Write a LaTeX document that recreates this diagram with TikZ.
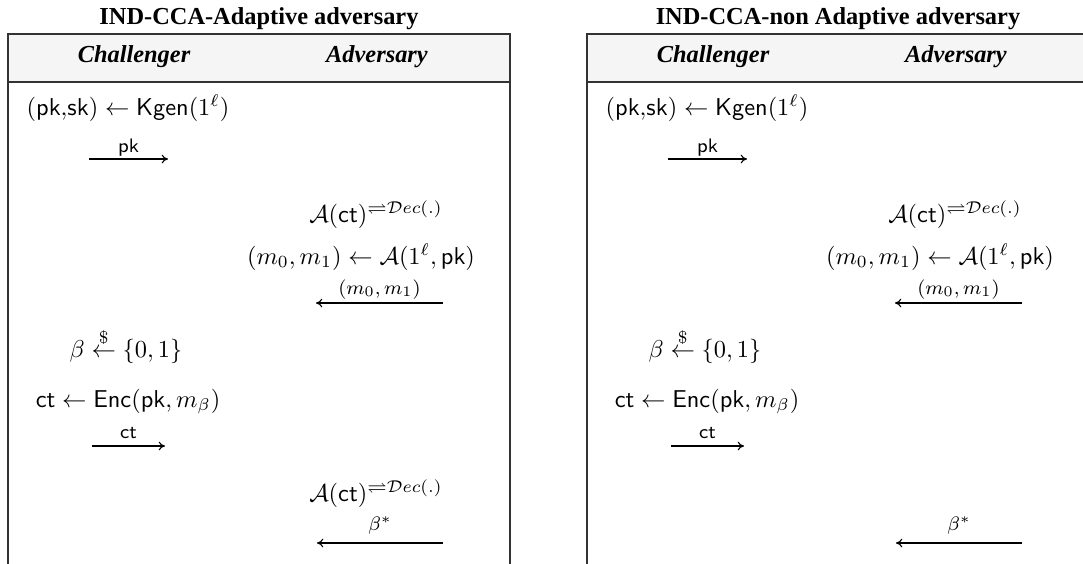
\documentclass[tikz,border=0pt]{standalone}
\usepackage{amsmath,amssymb}
\usepackage{fontspec}
\setmainfont{Liberation Serif}
\usetikzlibrary{arrows.meta}
\tikzset{
  title/.style={font=\bfseries, inner sep=0pt, anchor=base},
  head/.style={font=\bfseries\itshape, inner sep=0pt, anchor=base},
  txt/.style={inner sep=0pt, anchor=base},
  lbl/.style={font=\footnotesize, inner sep=0pt, anchor=base},
  arr/.style={-{To[length=2.6pt,width=3.6pt]}, line width=0.45pt},
  frame/.style={draw=black!80, line width=0.7pt},
  hdr/.style={fill=black!4}
}
\newcommand{\kgen}{$(\mathsf{pk{,}sk})\leftarrow\mathsf{Kgen}(1^{\ell})$}
\newcommand{\qry}{$\mathcal{A}(\mathsf{ct})^{\rightleftharpoons\mathcal{D}ec(.)}$}
\newcommand{\chal}{$(m_0,m_1)\leftarrow\mathcal{A}(1^{\ell},\mathsf{pk})$}
\newcommand{\smp}{$\beta\overset{\$}{\leftarrow}\{0,1\}$}
\newcommand{\enc}{$\mathsf{ct}\leftarrow\mathsf{Enc}(\mathsf{pk},m_{\beta})$}
\begin{document}
\begin{tikzpicture}[x=0.41pt,y=-0.41pt]
\clip (0,0) rectangle (1083,564);
% ---------------- left table ----------------
\fill[hdr] (8,34) rectangle (510,82);
\draw[frame] (8,600) -- (8,34) -- (510,34) -- (510,600);
\draw[frame] (8,82) -- (510,82);
\node[title] (Ltitle) at (259,24) {IND-CCA-Adaptive adversary};
\node[head] (Lch) at (134,62) {Challenger};
\node[head] (Ladv) at (377,62) {Adversary};
\node[txt] (Lkg) at (128,115) {\kgen};
\coordinate (Lpka) at (89,159); \coordinate (Lpkb) at (168,159);
\draw[arr] (Lpka) -- (Lpkb) node[lbl, midway, yshift=0.41*7pt] (Lpkl) {$\mathsf{pk}$};
\node[txt] (Lq1) at (376,222) {\qry};
\node[txt] (Lch1) at (361,264) {\chal};
\coordinate (Lma) at (443,303); \coordinate (Lmb) at (316,303);
\draw[arr] (Lma) -- (Lmb) node[lbl, midway, yshift=0.41*9pt] (Lml) {$(m_0,m_1)$};
\node[txt] (Lsm) at (126,357) {\smp};
\node[txt] (Len) at (128,407) {\enc};
\coordinate (Lcta) at (92,446); \coordinate (Lctb) at (165,446);
\draw[arr] (Lcta) -- (Lctb) node[lbl, midway, yshift=0.41*8pt] (Lctl) {$\mathsf{ct}$};
\node[txt] (Lq2) at (376,501) {\qry};
\coordinate (Lba) at (443,543); \coordinate (Lbb) at (317,543);
\draw[arr] (Lba) -- (Lbb) node[lbl, midway, yshift=0.41*13pt] (Lbl) {$\beta^{*}$};
% ---------------- right table ----------------
\begin{scope}[shift={(579,0)}]
\fill[hdr] (8,34) rectangle (510,82);
\draw[frame] (8,600) -- (8,34) -- (510,34) -- (510,600);
\draw[frame] (8,82) -- (510,82);
\node[title] (Rtitle) at (259,24) {IND-CCA-non Adaptive adversary};
\node[head] (Rch) at (134,62) {Challenger};
\node[head] (Radv) at (377,62) {Adversary};
\node[txt] (Rkg) at (128,115) {\kgen};
\coordinate (Rpka) at (89,159); \coordinate (Rpkb) at (168,159);
\draw[arr] (Rpka) -- (Rpkb) node[lbl, midway, yshift=0.41*7pt] (Rpkl) {$\mathsf{pk}$};
\node[txt] (Rq1) at (376,222) {\qry};
\node[txt] (Rch1) at (361,264) {\chal};
\coordinate (Rma) at (443,303); \coordinate (Rmb) at (316,303);
\draw[arr] (Rma) -- (Rmb) node[lbl, midway, yshift=0.41*9pt] (Rml) {$(m_0,m_1)$};
\node[txt] (Rsm) at (126,357) {\smp};
\node[txt] (Ren) at (128,407) {\enc};
\coordinate (Rcta) at (92,446); \coordinate (Rctb) at (165,446);
\draw[arr] (Rcta) -- (Rctb) node[lbl, midway, yshift=0.41*8pt] (Rctl) {$\mathsf{ct}$};
\coordinate (Rba) at (443,543); \coordinate (Rbb) at (317,543);
\draw[arr] (Rba) -- (Rbb) node[lbl, midway, yshift=0.41*13pt] (Rbl) {$\beta^{*}$};
\end{scope}
\end{tikzpicture}
\end{document}
